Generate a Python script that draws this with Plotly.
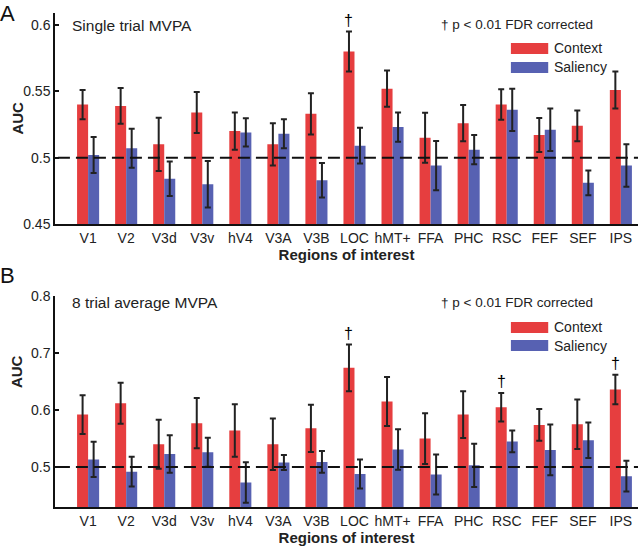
import plotly.graph_objects as go
from plotly.subplots import make_subplots

rois = ["V1", "V2", "V3d", "V3v", "hV4", "V3A", "V3B", "LOC", "hMT+", "FFA", "PHC", "RSC", "FEF", "SEF", "IPS"]

# A: single trial MVPA
single_context = [0.540, 0.539, 0.510, 0.534, 0.520, 0.510, 0.533, 0.580, 0.552, 0.515, 0.526, 0.540, 0.517, 0.524, 0.551]
single_context_err = [0.011, 0.0135, 0.020, 0.0155, 0.014, 0.016, 0.0155, 0.015, 0.0137, 0.0188, 0.0137, 0.0115, 0.0128, 0.0116, 0.0139]
single_saliency = [0.502, 0.507, 0.484, 0.480, 0.519, 0.518, 0.483, 0.509, 0.523, 0.494, 0.506, 0.536, 0.521, 0.481, 0.494]
single_saliency_err = [0.0135, 0.0147, 0.013, 0.0175, 0.0106, 0.011, 0.013, 0.0135, 0.011, 0.0185, 0.011, 0.016, 0.016, 0.0093, 0.016]
single_sig = ["LOC"]

# B: 8 trial average MVPA
avg_context = [0.592, 0.612, 0.540, 0.577, 0.564, 0.540, 0.568, 0.674, 0.615, 0.550, 0.592, 0.605, 0.574, 0.575, 0.636]
avg_context_err = [0.034, 0.036, 0.043, 0.044, 0.046, 0.045, 0.0415, 0.041, 0.043, 0.0445, 0.041, 0.025, 0.028, 0.0435, 0.026]
avg_saliency = [0.5135, 0.492, 0.523, 0.526, 0.473, 0.508, 0.509, 0.488, 0.531, 0.487, 0.503, 0.545, 0.530, 0.547, 0.484]
avg_saliency_err = [0.031, 0.026, 0.033, 0.0255, 0.0355, 0.013, 0.019, 0.0255, 0.0355, 0.035, 0.038, 0.019, 0.0445, 0.031, 0.027]
avg_sig = ["LOC", "RSC", "IPS"]

RED = "#E63E3F"
BLUE = "#5761B2"
FONT = "Liberation Sans, Arial, sans-serif"
TXT = "#222"

fig = make_subplots(rows=2, cols=1, vertical_spacing=0.1458)

panels = [
    (1, single_context, single_context_err, single_saliency, single_saliency_err, single_sig),
    (2, avg_context, avg_context_err, avg_saliency, avg_saliency_err, avg_sig),
]
for row, ctx, ctx_e, sal, sal_e, sig in panels:
    fig.add_trace(go.Bar(x=rois, y=ctx, marker_color=RED, marker_line_width=0, showlegend=False,
                         error_y=dict(type="data", array=ctx_e, color="#222", thickness=2, width=3)),
                  row=row, col=1)
    fig.add_trace(go.Bar(x=rois, y=sal, marker_color=BLUE, marker_line_width=0, showlegend=False,
                         error_y=dict(type="data", array=sal_e, color="#222", thickness=2, width=3)),
                  row=row, col=1)
    xr = "x" if row == 1 else "x2"
    yr = "y" if row == 1 else "y2"
    # chance line
    fig.add_shape(type="line", xref=xr + " domain", yref=yr, x0=0.005, x1=1, y0=0.5, y1=0.5,
                  line=dict(color="#111", width=2, dash="12px,6px"))
    # significance daggers
    for r in sig:
        i = rois.index(r)
        fig.add_annotation(x=r, y=ctx[i] + ctx_e[i], xref=xr, yref=yr, text="†", showarrow=False,
                           xshift=-5.5, yshift=11, font=dict(size=16, color="#000", family=FONT))

fig.update_layout(barmode="group", bargap=0.42, bargroupgap=0,
                  width=640, height=547, margin=dict(l=55, r=2, t=13, b=40),
                  plot_bgcolor="white", paper_bgcolor="white",
                  font=dict(family=FONT, size=14, color=TXT))

fig.update_xaxes(range=[-0.87, 14.45], showline=True, linecolor="#111", linewidth=2, ticks="",
                 showgrid=False, tickfont=dict(size=14, color=TXT),
                 title=dict(text="<b>Regions of interest</b>", font=dict(size=15, color=TXT), standoff=4))
fig.update_yaxes(showline=True, linecolor="#111", linewidth=1.5, ticks="inside", ticklen=4,
                 tickwidth=1.5, tickcolor="#111", showgrid=False, zeroline=False,
                 tickfont=dict(size=14, color=TXT))
fig.update_yaxes(range=[0.45, 0.609], tickvals=[0.45, 0.5, 0.55, 0.6], row=1, col=1)
fig.update_yaxes(range=[0.43, 0.8], tickvals=[0.5, 0.6, 0.7, 0.8], row=2, col=1)

# text and legends per panel
for xr, yr, title, title_y, note_y, sw_red, sw_blue, auc_y in [
    ("x", "y", "Single trial MVPA", 0.94, 0.945, (0.806, 0.858), (0.716, 0.768), 0.5),
    ("x2", "y2", "8 trial average MVPA", 0.97, 0.97, (0.825, 0.877), (0.739, 0.791), 0.64),
]:
    xd, yd = xr + " domain", yr + " domain"
    fig.add_annotation(x=0.026, y=title_y, xref=xd, yref=yd, text=title, showarrow=False,
                       xanchor="left", yanchor="middle", font=dict(size=15.5, color=TXT))
    fig.add_annotation(x=0.658, y=note_y, xref=xd, yref=yd, text="† p < 0.01 FDR corrected", showarrow=False,
                       xanchor="left", yanchor="middle", font=dict(size=13.5, color=TXT))
    for (y0, y1), col, lab in [(sw_red, RED, "Context"), (sw_blue, BLUE, "Saliency")]:
        fig.add_shape(type="rect", xref=xd, yref=yd, x0=0.782, x1=0.846, y0=y0, y1=y1,
                      fillcolor=col, line_width=0)
        fig.add_annotation(x=0.852, y=(y0 + y1) / 2, xref=xd, yref=yd, text=lab, showarrow=False,
                           xanchor="left", yanchor="middle", font=dict(size=14, color=TXT))
    fig.add_annotation(x=-0.065, y=auc_y, xref=xd, yref=yd, text="<b>AUC</b>", showarrow=False,
                       textangle=-90, xanchor="center", yanchor="middle", font=dict(size=15, color=TXT))

# panel letters
fig.add_annotation(x=-0.081, y=1.0, xref="paper", yref="paper", text="A", showarrow=False, borderpad=0,
                   xanchor="center", yanchor="middle", font=dict(size=22, color="#111"))
fig.add_annotation(x=-0.081, y=0.468, xref="paper", yref="paper", text="B", showarrow=False, borderpad=0,
                   xanchor="center", yanchor="middle", font=dict(size=22, color="#111"))

# page body has a default 8px margin; drop it so the figure fills the window
fig.write_html("out.html", config={"displayModeBar": False},
               post_script="document.body.style.margin='0px';")
